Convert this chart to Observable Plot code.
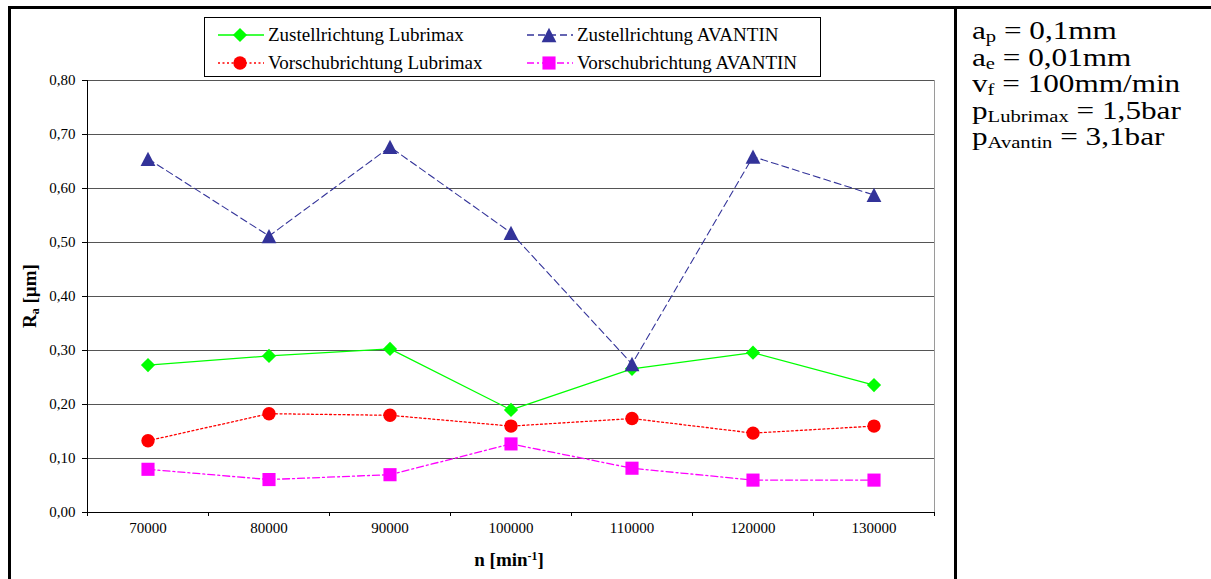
<!DOCTYPE html>
<html>
<head>
<meta charset="utf-8">
<script src="https://cdn.jsdelivr.net/npm/d3@7"></script>
<script src="https://cdn.jsdelivr.net/npm/@observablehq/plot@0.6"></script>
<style>
  html, body { margin: 0; padding: 0; background: #fff; }
  #wrap { position: relative; width: 1211px; height: 579px; overflow: hidden; font-family: "Liberation Serif", "Times New Roman", serif; color: #000; }
  #wrap svg.plot { position: absolute; left: 0; top: 0; }
  #wrap svg.plot text { font-family: "Liberation Serif", "Times New Roman", serif !important; font-size: 15px !important; fill: #000; }
  .line { position: absolute; background: #000; }
  .legend { position: absolute; left: 204px; top: 17px; width: 615px; height: 58px; border: 1px solid #000; background: #fff; }
  .item { position: absolute; display: flex; align-items: center; font-size: 19px; white-space: nowrap; height: 24px; }
  .item svg { display: block; margin-right: 4px; }
  .params { position: absolute; left: 972px; font-size: 26px; line-height: 26px; white-space: nowrap; transform: scaleX(1.2); transform-origin: 0 0; }
  .params .sub { font-size: 0.66em; line-height: 0; position: relative; top: 0.2em; }
  .ylabel { position: absolute; left: 30px; top: 296px; transform: translate(-50%, -50%) rotate(-90deg); font-weight: bold; font-size: 19px; white-space: nowrap; }
  .ylabel .sub { font-size: 0.62em; line-height: 0; position: relative; top: 0.25em; }
  .xlabel { position: absolute; left: 509px; top: 549px; transform: translateX(-50%); font-weight: bold; font-size: 19px; white-space: nowrap; line-height: 22px; }
  .xlabel sup { font-size: 0.62em; line-height: 0; vertical-align: 0.55em; }
</style>
</head>
<body>
<div id="wrap"></div>
<script>
// ---- data ----
const nValues = [70000, 80000, 90000, 100000, 110000, 120000, 130000];
const zustellLubrimax = [0.273, 0.290, 0.303, 0.190, 0.266, 0.296, 0.236];
const zustellAvantin  = [0.655, 0.512, 0.677, 0.518, 0.275, 0.659, 0.588];
const vorschubLubrimax = [0.133, 0.183, 0.180, 0.160, 0.174, 0.147, 0.160];
const vorschubAvantin  = [0.080, 0.061, 0.070, 0.127, 0.082, 0.060, 0.060];
const yTicks = [0, 0.1, 0.2, 0.3, 0.4, 0.5, 0.6, 0.7, 0.8];
const seriesNames = ["Zustellrichtung Lubrimax", "Zustellrichtung AVANTIN", "Vorschubrichtung Lubrimax", "Vorschubrichtung AVANTIN"];
const paramLines = [
  ["a", "p", " = 0,1mm"],
  ["a", "e", " = 0,01mm"],
  ["v", "f", " = 100mm/min"],
  ["p", "Lubrimax", " = 1,5bar"],
  ["p", "Avantin", " = 3,1bar"]
];

// ---- styles ----
const triangleSym = {
  draw(context, size) {
    const r = Math.sqrt(size / Math.PI);
    const hw = r, hh = 0.965 * r;
    context.moveTo(0, -hh);
    context.lineTo(hw, hh);
    context.lineTo(-hw, hh);
    context.closePath();
  }
};
const styles = [
  {name: seriesNames[0], values: zustellLubrimax, color: "#00ff00", dash: null, symbol: "diamond2", r: 6.4, width: 1.2},
  {name: seriesNames[1], values: zustellAvantin, color: "#333399", dash: "7,4", symbol: triangleSym, r: 7.4, width: 1.1},
  {name: seriesNames[2], values: vorschubLubrimax, color: "#ff0000", dash: "2,2.5", symbol: "circle", r: 6.7, width: 1.3},
  {name: seriesNames[3], values: vorschubAvantin, color: "#ff00ff", dash: "7,3,2,3", symbol: "square", r: 7.4, width: 1.3}
];

const font = "Liberation Serif";
const xMin = nValues[0] - 5000, xMax = nValues[nValues.length - 1] + 5000;
const boundaries = [...nValues.map(n => n - 5000), xMax];

const marks = [
  Plot.ruleY(yTicks.slice(1), {stroke: "#555", strokeWidth: 1}),
  Plot.ruleX([xMax], {stroke: "#9a9a9a", strokeWidth: 1}),
  Plot.ruleX([xMin], {stroke: "#000", strokeWidth: 1}),
  Plot.ruleY([0], {stroke: "#000", strokeWidth: 1}),
  Plot.axisY(yTicks, {tickSize: 5, tickPadding: 7, tickFormat: d => d.toFixed(2).replace(".", ","), fontSize: 15, fontFamily: font, fill: "#000", stroke: "#000", label: null}),
  Plot.axisX(boundaries, {tickSize: 4, text: null, stroke: "#000", label: null}),
  Plot.axisX(nValues, {tickSize: 0, tickPadding: 10, tickFormat: d => String(d), fontSize: 15, fontFamily: font, fill: "#000", label: null})
];
for (const s of styles) {
  const data = nValues.map((n, i) => ({n, v: s.values[i]}));
  marks.push(Plot.line(data, {x: "n", y: "v", stroke: s.color, strokeWidth: s.width, strokeDasharray: s.dash}));
  marks.push(Plot.dot(data, {x: "n", y: "v", symbol: s.symbol, r: s.r, fill: s.color, stroke: "none"}));
}

const chart = Plot.plot({
  width: 1211,
  height: 579,
  marginLeft: 87,
  marginRight: 277,
  marginTop: 80,
  marginBottom: 67,
  x: {type: "linear", domain: [xMin, xMax], axis: null},
  y: {domain: [0, 0.8], axis: null},
  style: {background: "transparent", fontFamily: "Liberation Serif, serif", fontSize: "15px"},
  marks
});
chart.classList.add("plot");
const wrap = document.getElementById("wrap");
wrap.appendChild(chart);

// ---- frame lines ----
function addLine(l, t, w, h) {
  const d = document.createElement("div");
  d.className = "line";
  Object.assign(d.style, {left: l + "px", top: t + "px", width: w + "px", height: h + "px"});
  wrap.appendChild(d);
}
addLine(8, 6, 1203, 2.5);
addLine(8, 6, 2.5, 600);
addLine(954, 6, 3, 600);

// ---- legend ----
const legend = document.createElement("div");
legend.className = "legend";
wrap.appendChild(legend);
const legendPos = [[13, 5], [322, 5], [13, 33], [322, 33]];
styles.forEach((s, k) => {
  const item = document.createElement("div");
  item.className = "item";
  item.style.left = legendPos[k][0] + "px";
  item.style.top = legendPos[k][1] + "px";
  const sw = d3.create("svg").attr("width", 46).attr("height", 16);
  sw.append("line").attr("x1", 0).attr("x2", 46).attr("y1", 8).attr("y2", 8)
    .attr("stroke", s.color).attr("stroke-width", s.width + 0.3)
    .attr("stroke-dasharray", s.dash);
  const symType = typeof s.symbol === "string"
    ? {diamond2: d3.symbolDiamond2, circle: d3.symbolCircle, square: d3.symbolSquare}[s.symbol]
    : s.symbol;
  sw.append("path").attr("transform", "translate(22,8)")
    .attr("d", d3.symbol(symType, Math.PI * s.r * s.r)()).attr("fill", s.color);
  item.appendChild(sw.node());
  const t = document.createElement("span");
  t.textContent = s.name;
  item.appendChild(t);
  legend.appendChild(item);
});

// ---- parameter box (one line per row) ----
paramLines.forEach((p, i) => {
  const d = document.createElement("div");
  d.className = "params";
  d.style.top = (18 + i * 26.5) + "px";
  d.innerHTML = p[0] + '<span class="sub">' + p[1] + '</span>' + p[2];
  wrap.appendChild(d);
});

// ---- axis titles ----
const yl = document.createElement("div");
yl.className = "ylabel";
yl.innerHTML = 'R<span class="sub">a</span> [µm]';
wrap.appendChild(yl);
const xl = document.createElement("div");
xl.className = "xlabel";
xl.innerHTML = 'n [min<sup>-1</sup>]';
wrap.appendChild(xl);
</script>
</body>
</html>
